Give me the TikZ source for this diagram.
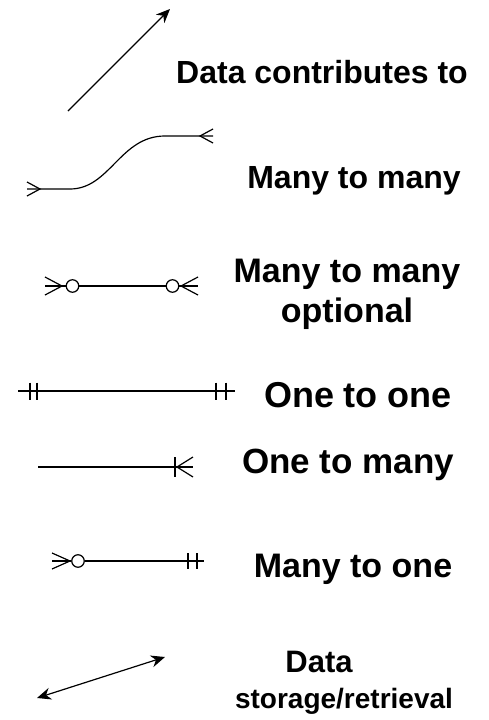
\documentclass[tikz,border=0pt]{standalone}
\usepackage{fontspec}
\setmainfont{Liberation Sans}
\usetikzlibrary{arrows.meta, calc}

\begin{document}
\begin{tikzpicture}[x=1pt, y=-1pt,
    relline/.style={line width=1.2pt, black},
    flowarrow/.style={line width=1.2pt, black},
    ringnode/.style={circle, draw, line width=1.2pt, minimum size=12.5pt, inner sep=0pt},
    legendtext/.style={anchor=base, align=center, inner sep=0pt, font=\bfseries}]
  \useasboundingbox (0,0) rectangle (488,720);
  % data contributes to
  \coordinate (dcS) at (68,111);
  \coordinate (dcE) at (170,9);
  \draw[flowarrow, -{Stealth[length=14pt,width=12pt]}] (dcS) -- (dcE);
  \node[legendtext, font=\bfseries\fontsize{32}{38}\selectfont] (ndc) at (322,83) {Data contributes to};
  % many to many (curved)
  \coordinate (mmA) at (27,189);
  \coordinate (mmB) at (40,189);
  \coordinate (mmC) at (200,136);
  \coordinate (mmD) at (213,136);
  \draw[relline] (mmA) -- (70,189) .. controls (110,189) and (120,136) .. (165,136) -- (mmD);
  \draw[relline] (mmB) ++(-13,-7) -- (mmB) -- ++(-13,7);
  \draw[relline] (mmC) ++(13,-7) -- (mmC) -- ++(13,7);
  \node[legendtext, font=\bfseries\fontsize{32}{38}\selectfont] (nmm) at (354,188) {Many to many};
  % many to many optional
  \coordinate (moA) at (45,286);
  \coordinate (moB) at (62,286);
  \node[ringnode] (moL) at (72.5,286) {};
  \node[ringnode] (moR) at (172.5,286) {};
  \coordinate (moC) at (181,286);
  \coordinate (moD) at (198,286);
  \draw[relline] (moA) -- (moL) -- (moR) -- (moD);
  \draw[relline] (moB) ++(-17,-9) -- (moB) -- ++(-17,9);
  \draw[relline] (moC) ++(17,-9) -- (moC) -- ++(17,9);
  \node[legendtext, font=\bfseries\fontsize{34}{40}\selectfont] (nmo) at (347,322) {Many to many\\optional};
  % one to one
  \coordinate (ooA) at (18,391);
  \coordinate (ooB) at (235,391);
  \draw[relline] (ooA) -- (ooB);
  \foreach \bx in {30,37,216,226}
    \draw[relline] (\bx,382.5) -- (\bx,399.5);
  \node[legendtext, font=\bfseries\fontsize{36}{42}\selectfont] (noo) at (358,407) {One to one};
  % one to many
  \coordinate (omA) at (38,467);
  \coordinate (omB) at (193,467);
  \coordinate (omC) at (177,467);
  \draw[relline] (omA) -- (omB);
  \draw[relline] (175,457) -- (175,477);
  \draw[relline] (omC) ++(16,-10) -- (omC) -- ++(16,10);
  \node[legendtext, font=\bfseries\fontsize{35}{41}\selectfont] (nom) at (348,473) {One to many};
  % many to one
  \coordinate (mnA) at (52,561);
  \coordinate (mnB) at (70,561);
  \node[ringnode] (mnL) at (78,561) {};
  \coordinate (mnD) at (204,561);
  \draw[relline] (mnA) -- (mnL) -- (mnD);
  \draw[relline] (mnB) ++(-18,-8) -- (mnB) -- ++(-18,8);
  \foreach \bx in {188,197}
    \draw[relline] (\bx,553) -- (\bx,569);
  \node[legendtext, font=\bfseries\fontsize{34}{40}\selectfont] (nmn) at (353,577) {Many to one};
  % data storage / retrieval
  \coordinate (dsA) at (37,698);
  \coordinate (dsB) at (165,657);
  \draw[flowarrow, {Stealth[length=14pt,width=12pt]}-{Stealth[length=14pt,width=12pt]}] (dsA) -- (dsB);
  \node[legendtext, font=\bfseries\fontsize{28}{36}\selectfont] (nds) at (344,708) {\fontsize{31}{36}\selectfont Data\hspace*{50pt}\\storage/retrieval};
\end{tikzpicture}
\end{document}
